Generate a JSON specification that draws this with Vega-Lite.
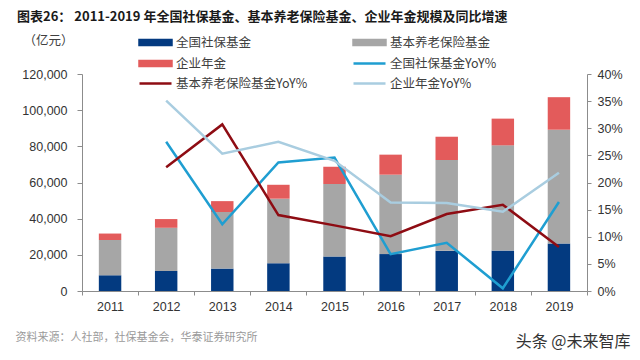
{
  "$schema": "https://vega.github.io/schema/vega-lite/v6.json",
  "width": 505,
  "height": 217,
  "autosize": {"type": "none"},
  "padding": {"left": 82, "top": 74, "right": 53, "bottom": 69},
  "background": "white",
  "title": {
    "text": "图表26：  2011-2019 年全国社保基金、基本养老保险基金、企业年金规模及同比增速",
    "anchor": "start",
    "frame": "group",
    "font": "Noto Sans CJK SC",
    "fontSize": 13,
    "fontWeight": "bold",
    "color": "#1a1a1a",
    "dx": -65,
    "offset": 10
  },
  "config": {
    "view": {"stroke": null},
    "axis": {
      "labelFont": "Liberation Sans",
      "labelFontSize": 12.5,
      "labelColor": "#333333",
      "domainColor": "#8c8c8c",
      "tickColor": "#8c8c8c",
      "grid": false
    }
  },
  "datasets": {
    "bars": [
      {"year": "2011", "series": "全国社保基金", "rank": 1, "value": 8700},
      {"year": "2011", "series": "基本养老保险基金", "rank": 2, "value": 19500},
      {"year": "2011", "series": "企业年金", "rank": 3, "value": 3570},
      {"year": "2012", "series": "全国社保基金", "rank": 1, "value": 11060},
      {"year": "2012", "series": "基本养老保险基金", "rank": 2, "value": 23900},
      {"year": "2012", "series": "企业年金", "rank": 3, "value": 4820},
      {"year": "2013", "series": "全国社保基金", "rank": 1, "value": 12400},
      {"year": "2013", "series": "基本养老保险基金", "rank": 2, "value": 31300},
      {"year": "2013", "series": "企业年金", "rank": 3, "value": 6000},
      {"year": "2014", "series": "全国社保基金", "rank": 1, "value": 15350},
      {"year": "2014", "series": "基本养老保险基金", "rank": 2, "value": 35700},
      {"year": "2014", "series": "企业年金", "rank": 3, "value": 7690},
      {"year": "2015", "series": "全国社保基金", "rank": 1, "value": 19140},
      {"year": "2015", "series": "基本养老保险基金", "rank": 2, "value": 40000},
      {"year": "2015", "series": "企业年金", "rank": 3, "value": 9530},
      {"year": "2016", "series": "全国社保基金", "rank": 1, "value": 20420},
      {"year": "2016", "series": "基本养老保险基金", "rank": 2, "value": 43900},
      {"year": "2016", "series": "企业年金", "rank": 3, "value": 11080},
      {"year": "2017", "series": "全国社保基金", "rank": 1, "value": 22230},
      {"year": "2017", "series": "基本养老保险基金", "rank": 2, "value": 50200},
      {"year": "2017", "series": "企业年金", "rank": 3, "value": 12880},
      {"year": "2018", "series": "全国社保基金", "rank": 1, "value": 22350},
      {"year": "2018", "series": "基本养老保险基金", "rank": 2, "value": 58200},
      {"year": "2018", "series": "企业年金", "rank": 3, "value": 14770},
      {"year": "2019", "series": "全国社保基金", "rank": 1, "value": 26290},
      {"year": "2019", "series": "基本养老保险基金", "rank": 2, "value": 62900},
      {"year": "2019", "series": "企业年金", "rank": 3, "value": 17990}
    ],
    "yoy": [
      {"year": "2012", "series": "全国社保基金YoY%", "value": 0.275},
      {"year": "2013", "series": "全国社保基金YoY%", "value": 0.123},
      {"year": "2014", "series": "全国社保基金YoY%", "value": 0.237},
      {"year": "2015", "series": "全国社保基金YoY%", "value": 0.246},
      {"year": "2016", "series": "全国社保基金YoY%", "value": 0.068},
      {"year": "2017", "series": "全国社保基金YoY%", "value": 0.089},
      {"year": "2018", "series": "全国社保基金YoY%", "value": 0.005},
      {"year": "2019", "series": "全国社保基金YoY%", "value": 0.164},
      {"year": "2012", "series": "基本养老保险基金YoY%", "value": 0.228},
      {"year": "2013", "series": "基本养老保险基金YoY%", "value": 0.307},
      {"year": "2014", "series": "基本养老保险基金YoY%", "value": 0.140},
      {"year": "2015", "series": "基本养老保险基金YoY%", "value": 0.121},
      {"year": "2016", "series": "基本养老保险基金YoY%", "value": 0.101},
      {"year": "2017", "series": "基本养老保险基金YoY%", "value": 0.142},
      {"year": "2018", "series": "基本养老保险基金YoY%", "value": 0.159},
      {"year": "2019", "series": "基本养老保险基金YoY%", "value": 0.081},
      {"year": "2012", "series": "企业年金YoY%", "value": 0.351},
      {"year": "2013", "series": "企业年金YoY%", "value": 0.253},
      {"year": "2014", "series": "企业年金YoY%", "value": 0.275},
      {"year": "2015", "series": "企业年金YoY%", "value": 0.240},
      {"year": "2016", "series": "企业年金YoY%", "value": 0.163},
      {"year": "2017", "series": "企业年金YoY%", "value": 0.162},
      {"year": "2018", "series": "企业年金YoY%", "value": 0.146},
      {"year": "2019", "series": "企业年金YoY%", "value": 0.218}
    ]
  },
  "encoding": {
    "x": {
      "field": "year",
      "type": "ordinal",
      "scale": {"paddingInner": 0, "paddingOuter": 0},
      "axis": {
        "labelAngle": 0,
        "tickBand": "extent",
        "tickSize": 4,
        "labelPadding": 5,
        "title": "资料来源：人社部，社保基金会，华泰证券研究所",
        "titleFont": "Noto Sans CJK SC",
        "titleFontSize": 11,
        "titleFontWeight": "normal",
        "titleColor": "#9a9a9a",
        "titleAnchor": "start",
        "titleAlign": "left",
        "titleBaseline": "middle",
        "titleX": -67,
        "titleY": 46
      }
    }
  },
  "layer": [
    {
      "data": {"name": "bars"},
      "mark": {"type": "bar", "width": {"band": 0.4}},
      "encoding": {
        "y": {
          "field": "value",
          "type": "quantitative",
          "stack": "zero",
          "scale": {"domain": [0, 120000], "nice": false},
          "axis": {
            "values": [0, 20000, 40000, 60000, 80000, 100000, 120000],
            "format": ",d",
            "tickSize": 5,
            "labelPadding": 10,
            "title": "（亿元）",
            "titleFont": "Noto Sans CJK SC",
            "titleFontSize": 12.5,
            "titleFontWeight": "normal",
            "titleColor": "#404040",
            "titleAngle": 0,
            "titleAlign": "left",
            "titleBaseline": "middle",
            "titleX": -59,
            "titleY": -34
          }
        },
        "order": {"field": "rank", "type": "quantitative", "sort": "ascending"},
        "color": {
          "field": "series",
          "type": "nominal",
          "sort": ["全国社保基金", "基本养老保险基金", "企业年金", "全国社保基金YoY%", "基本养老保险基金YoY%", "企业年金YoY%"],
          "scale": {
            "domain": ["全国社保基金", "基本养老保险基金", "企业年金", "全国社保基金YoY%", "基本养老保险基金YoY%", "企业年金YoY%"],
            "range": ["#033a80", "#a6a6a6", "#e35b5b", "#1f9ed1", "#8e0c13", "#a9cde0"]
          },
          "legend": {
            "title": null,
            "orient": "none",
            "legendX": 56,
            "legendY": -38,
            "columns": 2,
            "direction": "horizontal",
            "columnPadding": 40,
            "rowPadding": 6,
            "labelFont": "Noto Sans CJK SC",
            "labelFontSize": 12.5,
            "labelColor": "#404040",
            "labelOffset": 25,
            "symbolSize": 100,
            "encode": {
              "symbols": {
                "update": {
                  "shape": {"signal": "indexof(datum.value, 'YoY') >= 0 ? 'M-1,0H5.4' : 'M-1,-0.5H5.4V0.5H-1Z'"},
                  "fill": {"signal": "indexof(datum.value, 'YoY') >= 0 ? 'transparent' : scale('color', datum.value)"},
                  "stroke": {"signal": "indexof(datum.value, 'YoY') >= 0 ? scale('color', datum.value) : 'transparent'"},
                  "strokeWidth": {"value": 2.5},
                  "size": {"value": 100},
                  "opacity": {"value": 1}
                }
              }
            }
          }
        }
      }
    },
    {
      "data": {"name": "yoy"},
      "mark": {"type": "line", "strokeWidth": 2.5},
      "encoding": {
        "y": {
          "field": "value",
          "type": "quantitative",
          "scale": {"domain": [0, 0.4], "nice": false},
          "axis": {
            "orient": "right",
            "values": [0, 0.05, 0.1, 0.15, 0.2, 0.25, 0.3, 0.35, 0.4],
            "format": ".0%",
            "tickSize": 4,
            "labelPadding": 6,
            "title": "头条 @未来智库",
            "titleFont": "Noto Sans CJK SC",
            "titleFontSize": 16,
            "titleFontWeight": "normal",
            "titleColor": "#333333",
            "titleAngle": 0,
            "titleAlign": "right",
            "titleBaseline": "middle",
            "titleX": 43,
            "titleY": 267
          }
        },
        "color": {"field": "series", "type": "nominal"}
      }
    }
  ],
  "resolve": {"scale": {"y": "independent"}, "axis": {"y": "independent"}}
}
